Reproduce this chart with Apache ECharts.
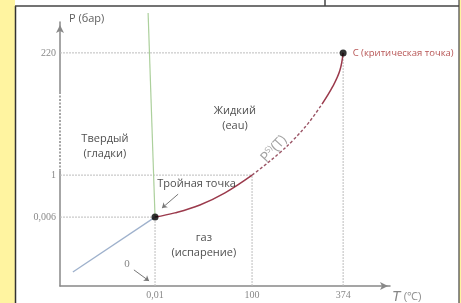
<!DOCTYPE html>
<html><head><meta charset="utf-8">
<script src="https://cdn.jsdelivr.net/npm/echarts@6/dist/echarts.min.js"></script>
<style>html,body{margin:0;padding:0;background:#fff}#c{width:461px;height:303px}</style>
</head><body><div id="c"></div>
<script>
// Schematic phase diagram: axis units are diagram units (0..100), tick labels give the physical values
const xTickLabels = ['0,01', '100', '374'];
const xTickValues = [28.8, 58.2, 85.8];
const yTickLabels = ['0,006', '1', '220'];
const yTickValues = [26.1, 42.0, 88.3];

const triplePoint = [28.8, 26.1];
const boilingPoint = [58.2, 42.0];
const criticalPoint = [85.8, 88.3];

const vaporCurveLow = [[28.8, 26.1], [34.8, 27.7], [42.4, 30.7], [50.0, 35.3], [58.2, 42.0]];
const vaporCurveMid = [[58.2, 42.0], [61.5, 45.2], [66.7, 50.6], [70.6, 55.2], [75.2, 61.6], [79.4, 68.9]];
const vaporCurveHigh = [[79.4, 68.9], [82.7, 75.7], [84.8, 81.6], [85.8, 88.3]];
const fusionLine = [[26.7, 103.4], [28.8, 26.1]];
const sublimationLine = [[3.9, 5.3], [28.8, 26.1]];
const axisBreak = [[0, 73.5], [0, 43.9]];

const regionNames = [
  {text: 'Твердый\n(гладки)', at: [13.6, 53.0]},
  {text: 'Жидкий\n(eau)', at: [53.0, 63.6]},
  {text: 'Тройная точка', at: [41.4, 38.6]},
  {text: 'газ\n(испарение)', at: [43.6, 15.5]}
];
const arrows = [
  [[35.8, 34.8], [30.9, 29.5]],
  [[22.4, 6.1], [27.0, 1.9]]
];

const chart = echarts.init(document.getElementById('c'), null, {renderer: 'canvas'});
const guide = {color: '#bdbdbd', type: [2, 1], width: 1};
function guideSeries(data) {
  return {type: 'line', data: data, symbol: 'none', silent: true, lineStyle: guide, z: 1, animation: false};
}
function nearestLabel(vals, labels, v) {
  let best = 0;
  for (let i = 1; i < vals.length; i++) if (Math.abs(vals[i] - v) < Math.abs(vals[best] - v)) best = i;
  return labels[best];
}
const tickFont = {fontFamily: 'Liberation Serif', fontSize: 10, color: '#888'};
const textFont = {fontFamily: 'Open Sans', fontSize: 11, color: '#222', lineHeight: 15};
const curve = {type: 'line', symbol: 'none', smooth: 0.4, z: 5};

chart.setOption({
  animation: false,
  backgroundColor: '#fff',
  grid: {left: 60, right: 71, top: 22, bottom: 17, containLabel: false},
  xAxis: {
    type: 'value', min: 0, max: 100, splitLine: {show: false},
    axisLine: {show: true, symbol: ['none', 'arrow'], symbolSize: [6, 8], symbolOffset: [0, -2],
      lineStyle: {color: '#888', width: 1.5}},
    axisTick: {show: false},
    axisLabel: Object.assign({margin: 4, customValues: xTickValues,
      formatter: v => nearestLabel(xTickValues, xTickLabels, v)}, tickFont)
  },
  yAxis: {
    type: 'value', min: 0, max: 100, splitLine: {show: false},
    axisLine: {show: true, symbol: ['none', 'arrow'], symbolSize: [6, 8], symbolOffset: [0, -3],
      lineStyle: {color: '#888', width: 1.5}},
    axisTick: {show: false},
    axisLabel: Object.assign({margin: 4, customValues: yTickValues,
      formatter: v => nearestLabel(yTickValues, yTickLabels, v)}, tickFont)
  },
  graphic: [
    {type: 'rect', shape: {x: 0, y: 0, width: 15, height: 303}, style: {fill: '#fff4a0'}, z: 100},
    {type: 'rect', shape: {x: 459, y: 0, width: 2, height: 303}, style: {fill: '#fff4a0'}, z: 100},
    {type: 'line', shape: {x1: 15.5, y1: 6, x2: 15.5, y2: 303}, style: {stroke: '#333', lineWidth: 1.5}, z: 101},
    {type: 'line', shape: {x1: 15, y1: 6, x2: 459, y2: 6}, style: {stroke: '#444', lineWidth: 1.5}, z: 101},
    {type: 'line', shape: {x1: 325, y1: 0, x2: 325, y2: 6}, style: {stroke: '#444', lineWidth: 1.5}, z: 101},
    {type: 'line', shape: {x1: 459, y1: 0, x2: 459, y2: 303}, style: {stroke: '#444', lineWidth: 1.2}, z: 101}
  ],
  series: [
    guideSeries([[0, yTickValues[2]], [xTickValues[2], yTickValues[2]]]),
    guideSeries([[0, yTickValues[1]], [xTickValues[1], yTickValues[1]]]),
    guideSeries([[0, yTickValues[0]], [xTickValues[0], yTickValues[0]]]),
    guideSeries([[xTickValues[0], 0], [xTickValues[0], yTickValues[0]]]),
    guideSeries([[xTickValues[1], 0], [xTickValues[1], yTickValues[1]]]),
    guideSeries([[xTickValues[2], 0], [xTickValues[2], yTickValues[2]]]),
    {type: 'line', data: axisBreak, symbol: 'none', lineStyle: {color: '#fff', width: 4}, z: 3, clip: false},
    {type: 'line', data: axisBreak, symbol: 'none', lineStyle: {color: '#888', width: 1.5, type: [2, 1.5]}, z: 4, clip: false},
    {type: 'line', data: fusionLine, symbol: 'none', clip: false, lineStyle: {color: '#acd09c', width: 1.2}, z: 5},
    {type: 'line', data: sublimationLine, symbol: 'none', lineStyle: {color: '#9eb1cc', width: 1.3}, z: 5},
    Object.assign({data: vaporCurveLow, lineStyle: {color: '#9b3a4c', width: 1.5}}, curve),
    Object.assign({data: vaporCurveMid, lineStyle: {color: '#9b5566', width: 1.4, type: [3, 2]}}, curve),
    Object.assign({data: vaporCurveHigh, lineStyle: {color: '#9b3a4c', width: 1.5}}, curve),
    {type: 'lines', coordinateSystem: 'cartesian2d', symbol: ['none', 'arrow'], symbolSize: 5,
      lineStyle: {color: '#777', width: 1, opacity: 1}, z: 5,
      data: arrows.map(a => ({coords: a}))},
    {type: 'scatter', symbol: 'circle', symbolSize: 7, itemStyle: {color: '#000'}, z: 6,
      data: [
        {value: triplePoint},
        {value: criticalPoint, label: {show: true, position: 'right', distance: 6,
          formatter: 'C (критическая точка)', fontFamily: 'Open Sans', fontSize: 9.5, color: '#a52a2a'}}
      ]},
    {type: 'scatter', symbolSize: 0, clip: false, z: 7, silent: true,
      label: Object.assign({show: true, position: 'inside', align: 'center', verticalAlign: 'middle'}, textFont),
      data: regionNames.map(r => ({value: r.at, label: {formatter: r.text}})).concat([
        {value: [2.7, 101.1], label: {formatter: 'P (бар)', align: 'left', fontSize: 11, color: '#333'}},
        {value: [20.3, 8.3], label: {formatter: '0', fontFamily: 'Liberation Serif', fontSize: 11, color: '#666'}},
        {value: [100.6, -4.2], label: {formatter: '{t|T} {u|(℃)}', align: 'left',
          rich: {t: {fontFamily: 'Liberation Sans', fontStyle: 'italic', fontSize: 14, color: '#666'},
                 u: {fontFamily: 'Liberation Sans', fontSize: 11, color: '#777'}}}},
        {value: [64.8, 51.9], label: {formatter: '{p|P}{s|S)}{p|(T)}', rotate: 47,
          rich: {p: {fontFamily: 'Open Sans', fontSize: 14, color: '#8a8a8a'},
                 s: {fontFamily: 'Open Sans', fontSize: 8, color: '#8a8a8a', padding: [0, 0, 7, 0]}}}}
      ])}
  ]
});
</script></body></html>
